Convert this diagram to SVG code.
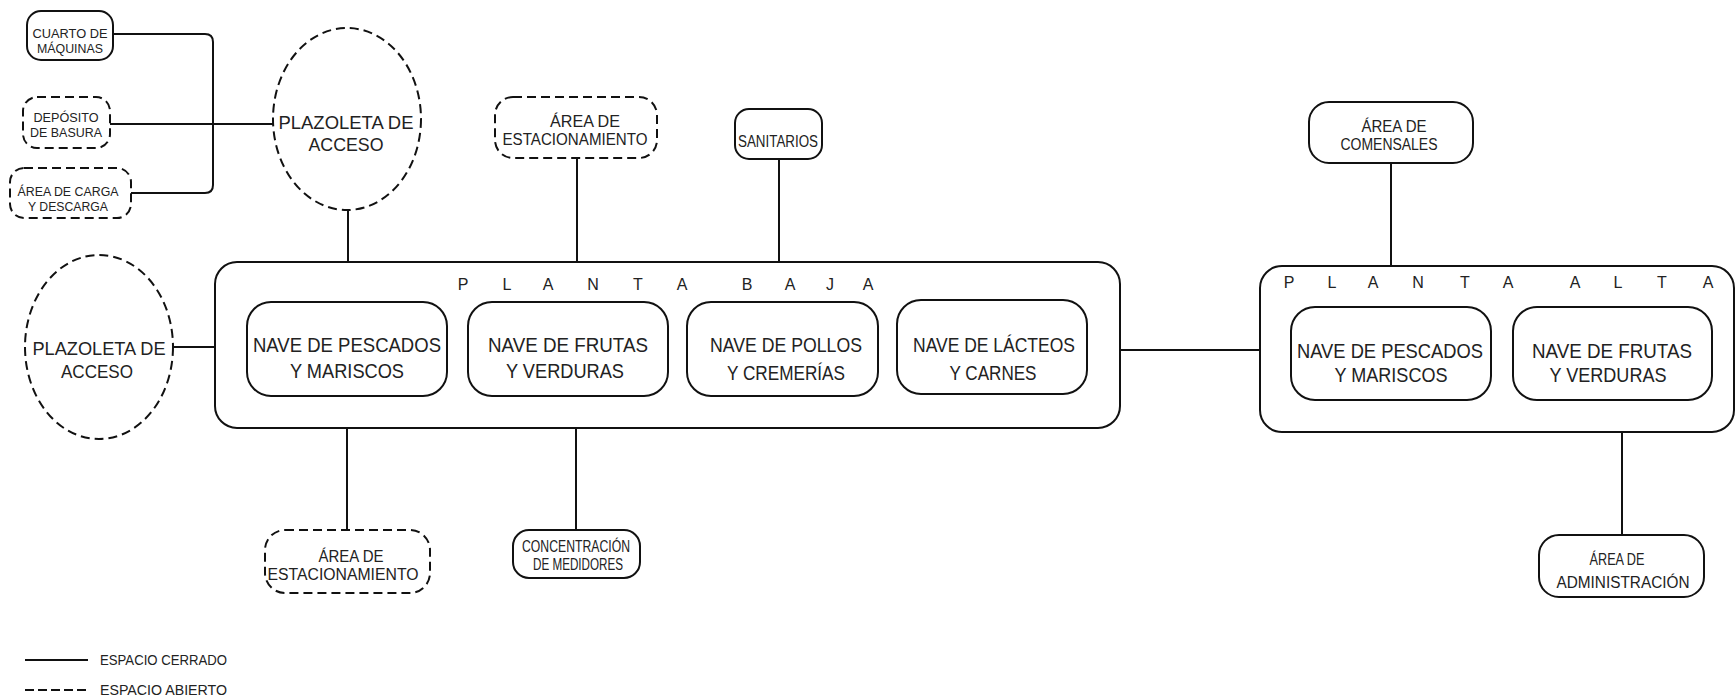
<svg xmlns="http://www.w3.org/2000/svg" width="1735" height="699" viewBox="0 0 1735 699">
<style>
.s{fill:#fff;stroke:#111;stroke-width:2}
.d{fill:#fff;stroke:#111;stroke-width:2;stroke-dasharray:9 5}
.c{fill:none;stroke:#111;stroke-width:2}
text{font-family:"Liberation Sans",Arial,sans-serif;fill:#222;text-anchor:middle}
.t1{font-size:19px}
.t2{font-size:21px}
.t3{font-size:16px}
.t5{font-size:12.5px}
.t4{font-size:16px}
.lg{font-size:14px;text-anchor:start}
</style>
<rect width="1735" height="699" fill="#fff"/>
<g id="connectors">
<path class="c" d="M113,34 H205 Q213,34 213,42 V185 Q213,193 205,193 H131"/>
<path class="c" d="M110,124 H273"/>
<path class="c" d="M348,210 V262"/>
<path class="c" d="M577,158 V262"/>
<path class="c" d="M779,159 V262"/>
<path class="c" d="M1391,163 V266"/>
<path class="c" d="M347,428 V530"/>
<path class="c" d="M576,428 V530"/>
<path class="c" d="M1622,432 V535"/>
<path class="c" d="M173,347 H215"/>
<path class="c" d="M447,349 H468"/>
<path class="c" d="M668,349 H687"/>
<path class="c" d="M878,349 H897"/>
<path class="c" d="M1120,350 H1260"/>
<path class="c" d="M1491,353 H1513"/>
</g>
<g id="planta-baja">
<rect class="s" x="215" y="262" width="905" height="166" rx="22"/>
<text class="t4" y="290"><tspan x="463">P</tspan><tspan x="507">L</tspan><tspan x="548">A</tspan><tspan x="593">N</tspan><tspan x="638">T</tspan><tspan x="682">A</tspan><tspan x="747">B</tspan><tspan x="790">A</tspan><tspan x="830">J</tspan><tspan x="868">A</tspan></text>
</g>
<g id="planta-alta">
<rect class="s" x="1260" y="266" width="474" height="166" rx="22"/>
<text class="t4" y="288"><tspan x="1289">P</tspan><tspan x="1332">L</tspan><tspan x="1373">A</tspan><tspan x="1418">N</tspan><tspan x="1465">T</tspan><tspan x="1508">A</tspan><tspan x="1575">A</tspan><tspan x="1618">L</tspan><tspan x="1662">T</tspan><tspan x="1708">A</tspan></text>
</g>
<g id="cuarto-maquinas">
<rect class="s" x="27" y="11" width="86" height="49" rx="14"/>
<text class="t5" x="70" y="38" textLength="75" lengthAdjust="spacingAndGlyphs">CUARTO DE</text>
<text class="t5" x="70" y="53" textLength="66" lengthAdjust="spacingAndGlyphs">MÁQUINAS</text>
</g>
<g id="deposito-basura">
<rect class="d" x="23" y="97" width="87" height="51" rx="14"/>
<text class="t5" x="66" y="122" textLength="65" lengthAdjust="spacingAndGlyphs">DEPÓSITO</text>
<text class="t5" x="66" y="137" textLength="72" lengthAdjust="spacingAndGlyphs">DE BASURA</text>
</g>
<g id="area-carga">
<rect class="d" x="10" y="168" width="121" height="50" rx="14"/>
<text class="t5" x="68" y="196" textLength="101" lengthAdjust="spacingAndGlyphs">ÁREA DE CARGA</text>
<text class="t5" x="68" y="211" textLength="80" lengthAdjust="spacingAndGlyphs">Y DESCARGA</text>
</g>
<g id="plazoleta-top">
<ellipse class="d" cx="347" cy="119" rx="74" ry="91"/>
<text class="t1" x="346" y="129" textLength="135" lengthAdjust="spacingAndGlyphs">PLAZOLETA DE</text>
<text class="t1" x="346" y="151" textLength="75" lengthAdjust="spacingAndGlyphs">ACCESO</text>
</g>
<g id="plazoleta-left">
<ellipse class="d" cx="99" cy="347" rx="74" ry="92"/>
<text class="t1" x="99" y="355" textLength="133" lengthAdjust="spacingAndGlyphs">PLAZOLETA DE</text>
<text class="t1" x="97" y="378" textLength="72" lengthAdjust="spacingAndGlyphs">ACCESO</text>
</g>
<g id="estacionamiento-top">
<rect class="d" x="495" y="97" width="162" height="61" rx="18"/>
<text class="t3" x="585" y="127" textLength="70" lengthAdjust="spacingAndGlyphs">ÁREA DE</text>
<text class="t3" x="575" y="145" textLength="145" lengthAdjust="spacingAndGlyphs">ESTACIONAMIENTO</text>
</g>
<g id="sanitarios">
<rect class="s" x="735" y="109" width="87" height="50" rx="14"/>
<text class="t3" x="778" y="147" textLength="80" lengthAdjust="spacingAndGlyphs">SANITARIOS</text>
</g>
<g id="comensales">
<rect class="s" x="1309" y="102" width="164" height="61" rx="20"/>
<text class="t3" x="1394" y="132" textLength="65" lengthAdjust="spacingAndGlyphs">ÁREA DE</text>
<text class="t3" x="1389" y="150" textLength="97" lengthAdjust="spacingAndGlyphs">COMENSALES</text>
</g>
<g id="baja-pescados">
<rect class="s" x="247" y="302" width="200" height="94" rx="24"/>
<text class="t2" x="347" y="352" textLength="188" lengthAdjust="spacingAndGlyphs">NAVE DE PESCADOS</text>
<text class="t2" x="347" y="378" textLength="114" lengthAdjust="spacingAndGlyphs">Y MARISCOS</text>
</g>
<g id="baja-frutas">
<rect class="s" x="468" y="302" width="200" height="94" rx="24"/>
<text class="t2" x="568" y="352" textLength="160" lengthAdjust="spacingAndGlyphs">NAVE DE FRUTAS</text>
<text class="t2" x="565" y="378" textLength="118" lengthAdjust="spacingAndGlyphs">Y VERDURAS</text>
</g>
<g id="baja-pollos">
<rect class="s" x="687" y="302" width="191" height="94" rx="24"/>
<text class="t2" x="786" y="352" textLength="152" lengthAdjust="spacingAndGlyphs">NAVE DE POLLOS</text>
<text class="t2" x="786" y="380" textLength="118" lengthAdjust="spacingAndGlyphs">Y CREMERÍAS</text>
</g>
<g id="baja-lacteos">
<rect class="s" x="897" y="300" width="190" height="94" rx="24"/>
<text class="t2" x="994" y="352" textLength="162" lengthAdjust="spacingAndGlyphs">NAVE DE LÁCTEOS</text>
<text class="t2" x="993" y="380" textLength="87" lengthAdjust="spacingAndGlyphs">Y CARNES</text>
</g>
<g id="alta-pescados">
<rect class="s" x="1291" y="307" width="200" height="93" rx="24"/>
<text class="t2" x="1390" y="358" textLength="186" lengthAdjust="spacingAndGlyphs">NAVE DE PESCADOS</text>
<text class="t2" x="1391" y="382" textLength="113" lengthAdjust="spacingAndGlyphs">Y MARISCOS</text>
</g>
<g id="alta-frutas">
<rect class="s" x="1513" y="307" width="199" height="93" rx="24"/>
<text class="t2" x="1612" y="358" textLength="160" lengthAdjust="spacingAndGlyphs">NAVE DE FRUTAS</text>
<text class="t2" x="1608" y="382" textLength="117" lengthAdjust="spacingAndGlyphs">Y VERDURAS</text>
</g>
<g id="estacionamiento-bottom">
<rect class="d" x="265" y="530" width="165" height="63" rx="20"/>
<text class="t3" x="351" y="562" textLength="65" lengthAdjust="spacingAndGlyphs">ÁREA DE</text>
<text class="t3" x="343" y="580" textLength="151" lengthAdjust="spacingAndGlyphs">ESTACIONAMIENTO</text>
</g>
<g id="concentracion">
<rect class="s" x="513" y="530" width="127" height="48" rx="16"/>
<text class="t3" x="576" y="552" textLength="108" lengthAdjust="spacingAndGlyphs">CONCENTRACIÓN</text>
<text class="t3" x="578" y="570" textLength="90" lengthAdjust="spacingAndGlyphs">DE MEDIDORES</text>
</g>
<g id="administracion">
<rect class="s" x="1539" y="535" width="165" height="62" rx="20"/>
<text class="t3" x="1617" y="565" textLength="55" lengthAdjust="spacingAndGlyphs">ÁREA DE</text>
<text class="t3" x="1623" y="588" textLength="133" lengthAdjust="spacingAndGlyphs">ADMINISTRACIÓN</text>
</g>
<g id="legend">
<path class="c" d="M25,660 H88"/>
<path class="c" d="M25,690 H88" stroke-dasharray="9 4"/>
<text class="lg" x="100" y="665" textLength="127" lengthAdjust="spacingAndGlyphs">ESPACIO CERRADO</text>
<text class="lg" x="100" y="695" textLength="127" lengthAdjust="spacingAndGlyphs">ESPACIO ABIERTO</text>
</g>
</svg>
